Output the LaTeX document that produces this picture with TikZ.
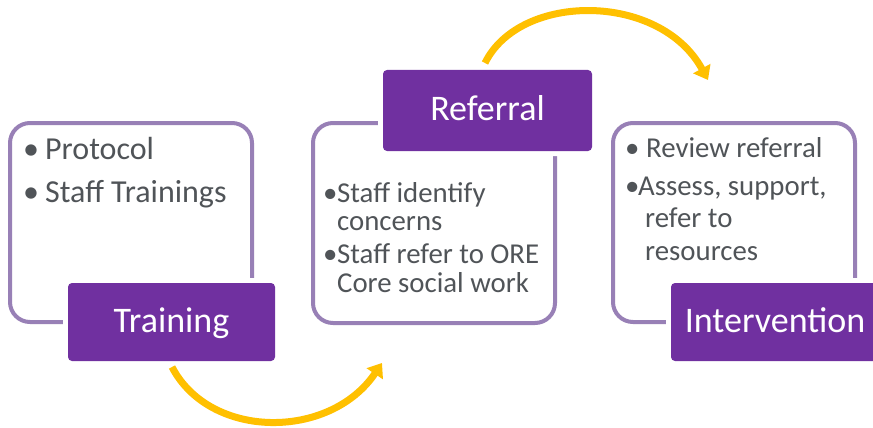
\documentclass[tikz,border=0pt]{standalone}
\usepackage{fontspec}
\setmainfont{Carlito}
\usetikzlibrary{arrows.meta}
\definecolor{stagepurple}{HTML}{7030A0}
\definecolor{outl}{RGB}{152,128,182}
\definecolor{txtgray}{RGB}{80,84,88}
\definecolor{arrowy}{HTML}{FFC000}
\begin{document}
\begin{tikzpicture}[x=1pt,y=-1pt,
  outline/.style={draw=outl,line width=4pt,rounded corners=20pt},
  stagebox/.style={fill=stagepurple,rounded corners=4pt,inner sep=0pt,
    preaction={draw=white,line width=10pt},
    text=white,font=\fontsize{36}{40}\selectfont,text height=21pt,text depth=0pt},
  bodytxt/.style={anchor=base west,inner sep=0pt,text=txtgray,font=\fontsize{28.8}{32}\selectfont},
  bigtxt/.style={anchor=base west,inner sep=0pt,text=txtgray,font=\fontsize{32}{36}\selectfont},
  cyclearrow/.style={draw=arrowy,line width=7pt,-{Triangle[length=13pt,width=19pt]}}]
\useasboundingbox (0,0) rectangle (873,428);
\clip (0,0) rectangle (873,428);
\fill[white] (0,0) rectangle (873,428);

% outline boxes
\draw[outline] (10,123) rectangle (252,322);
\draw[outline] (313,123) rectangle (555,323);
\draw[outline] (613,123) rectangle (855,322);

% stage labels
\node[stagebox,minimum width=207pt,minimum height=78pt] (training) at (171.5,322) {Training};
\node[stagebox,minimum width=209pt,minimum height=81pt] (referral) at (487.5,110.5) {Referral};
\node[stagebox,minimum width=208pt,minimum height=78pt] (intervention) at (775,322) {Intervention};

% box 1 text
\node[bigtxt] (b1a) at (23,159) {•};
\node[bigtxt] (t1a) at (45,159) {Protocol};
\node[bigtxt] (b1b) at (23,202) {•};
\node[bigtxt] (t1b) at (45,202) {Staff Trainings};

% box 2 text
\node[bodytxt] (b2a) at (323,202) {•};
\node[bodytxt] (t2a) at (337,202) {Staff identify};
\node[bodytxt] (t2b) at (337,230) {concerns};
\node[bodytxt] (b2c) at (323,263) {•};
\node[bodytxt] (t2c) at (337,263) {Staff refer to ORE};
\node[bodytxt] (t2d) at (337,292) {Core social work};

% box 3 text
\node[bodytxt] (b3a) at (625,157) {•};
\node[bodytxt] (t3a) at (646,157) {Review referral};
\node[bodytxt] (b3b) at (625,195) {•};
\node[bodytxt] (t3b) at (638,195) {Assess, support,};
\node[bodytxt] (t3c) at (645,227) {refer to};
\node[bodytxt] (t3d) at (645,260) {resources};

% arrows
\coordinate (a1s) at (172,367);
\coordinate (a1e) at (382,363);
\coordinate (a2s) at (485,63);
\coordinate (a2e) at (708,80);
\draw[cyclearrow] (a1s) .. controls (210,440) and (330,440) .. (a1e);
\draw[cyclearrow] (a2s) .. controls (520,-8) and (660,-8) .. (a2e);
\end{tikzpicture}
\end{document}
